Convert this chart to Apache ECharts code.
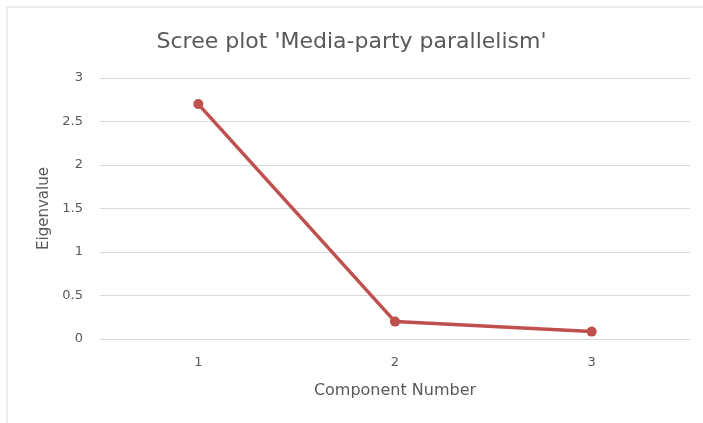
<!DOCTYPE html>
<html>
<head>
<meta charset="utf-8">
<script src="https://cdn.jsdelivr.net/npm/echarts@6/dist/echarts.min.js"></script>
<style>
  html, body { margin: 0; padding: 0; background: #fff; }
  #chart { width: 703px; height: 423px; }
</style>
</head>
<body>
<div id="chart"></div>
<script>
// Scree plot: eigenvalue per extracted component
const components = ['1', '2', '3'];
const eigenvalues = [2.70, 0.20, 0.085];
const yTicks = [0, 0.5, 1, 1.5, 2, 2.5, 3];

const textColor = '#595959';
const font = '"DejaVu Sans", "Open Sans", sans-serif';

const chart = echarts.init(document.getElementById('chart'));
chart.setOption({
  backgroundColor: '#ffffff',
  animation: false,
  graphic: [{
    type: 'rect',
    shape: { x: 7, y: 7, width: 720, height: 440 },
    style: { fill: 'none', stroke: '#d9d9d9', lineWidth: 1 },
    silent: true
  }],
  title: {
    text: "Scree plot 'Media-party parallelism'",
    left: 'center',
    top: 26,
    textStyle: { color: textColor, fontSize: 22, fontWeight: 'normal', fontFamily: font }
  },
  grid: { left: 100, right: 13, top: 78, bottom: 84 },
  xAxis: {
    type: 'category',
    data: components,
    boundaryGap: true,
    name: 'Component Number',
    nameLocation: 'middle',
    nameGap: 44,
    nameTextStyle: { color: textColor, fontSize: 16, fontFamily: font },
    axisLine: { show: true, lineStyle: { color: '#d9d9d9', width: 1 } },
    axisTick: { show: false },
    axisLabel: { color: textColor, fontSize: 13, fontFamily: font, margin: 17 }
  },
  yAxis: {
    type: 'value',
    min: yTicks[0],
    max: yTicks[yTicks.length - 1],
    interval: 0.5,
    name: 'Eigenvalue',
    nameLocation: 'middle',
    nameGap: 48,
    nameTextStyle: { color: textColor, fontSize: 15, fontFamily: font },
    axisLine: { show: false },
    axisTick: { show: false },
    axisLabel: { color: textColor, fontSize: 13, fontFamily: font, margin: 17 },
    splitLine: { lineStyle: { color: '#d9d9d9', width: 1 } }
  },
  series: [{
    type: 'line',
    data: eigenvalues,
    symbol: 'circle',
    symbolSize: 10,
    lineStyle: { color: '#C0504D', width: 3.5 },
    itemStyle: { color: '#C0504D' }
  }]
});
</script>
</body>
</html>
